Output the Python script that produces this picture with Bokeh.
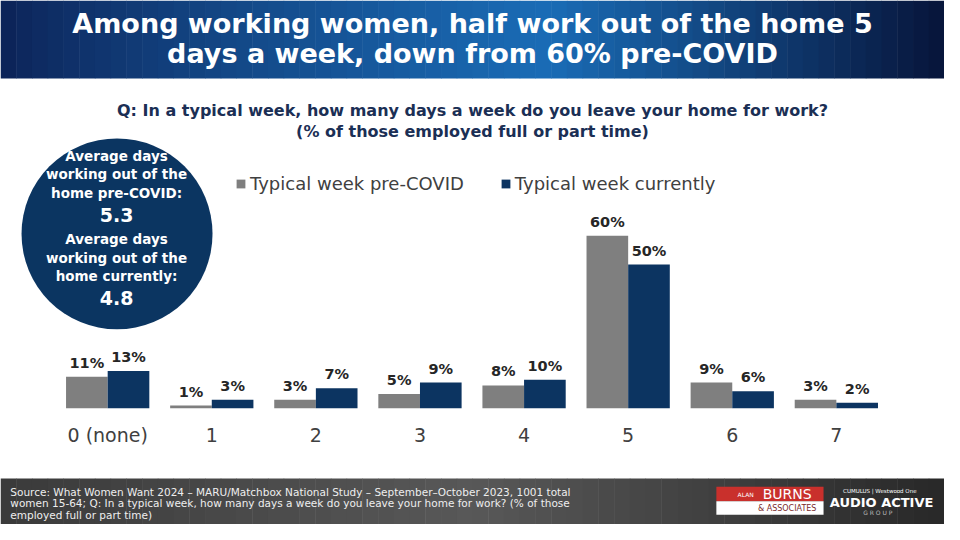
from bokeh.plotting import figure
from bokeh.models import (ColumnDataSource, Range1d, FixedTicker, Legend, LegendItem)
from bokeh.layouts import column
from bokeh.transform import dodge
from bokeh.core.properties import value
from bokeh.embed import file_html
from bokeh.resources import INLINE

# ---------------- data ----------------
categories = ["0 (none)", "1", "2", "3", "4", "5", "6", "7"]
pre_covid = [11, 1, 3, 5, 8, 60, 9, 3]
currently = [13, 3, 7, 9, 10, 50, 6, 2]
series_names = ["Typical week pre-COVID", "Typical week currently"]
avg_pre = "5.3"
avg_now = "4.8"

title_lines = ["Among working women, half work out of the home 5",
               "days a week, down from 60% pre-COVID"]
question_lines = ["Q: In a typical week, how many days a week do you leave your home for work?",
                  "(% of those employed full or part time)"]
source_lines = ["Source: What Women Want 2024 \u2013 MARU/Matchbox National Study \u2013 September\u2013October 2023, 1001 total",
                "women 15-64; Q: In a typical week, how many days a week do you leave your home for work? (% of those",
                "employed full or part time)"]

# ---------------- styling ----------------
GRAY = "#7f7f7f"
NAVY = "#0c3461"
FONT = "DejaVu Sans"
W, H = 944, 524
MAIN_H = 478
FOOT_H = H - MAIN_H
kx, ky = W / 960, H / 540
frame_h = 408
ref_base = frame_h / ky          # reference-pixel y of the baseline
px_per_pct = 2.967

x0 = -109 / 105.86
x1 = (960 - 109) / 105.86

p = figure(width=W, height=MAIN_H, output_backend="svg", toolbar_location=None,
           x_range=Range1d(x0, x1), y_range=Range1d(0, ref_base / px_per_pct),
           y_axis_type=None, min_border_left=0, min_border_right=0,
           min_border_top=0, min_border_bottom=MAIN_H - frame_h)
p.extra_x_ranges = {"px": Range1d(0, 960)}
p.extra_y_ranges = {"py": Range1d(ref_base, 0)}
p.xgrid.visible = False
p.ygrid.visible = False
p.outline_line_color = None
p.background_fill_color = "white"
p.border_fill_color = "white"

# ---- title band gradient (decoration) ----
def lerp(a, b, t):
    return tuple(int(round(a[i] + (b[i] - a[i]) * t)) for i in range(3))

c_left, c_mid, c_right = (12, 34, 86), (26, 108, 182), (7, 20, 58)
n = 60
lefts, rights, cols = [], [], []
for i in range(n):
    t = (i + 0.5) / n
    if t < 0.58:
        c = lerp(c_left, c_mid, (t / 0.58) ** 0.8)
    else:
        c = lerp(c_mid, c_right, (t - 0.58) / 0.42)
    lefts.append(960 * i / n)
    rights.append(960 * (i + 1) / n + 0.5)
    cols.append("#%02x%02x%02x" % c)
p.quad(left=lefts, right=rights, top=[0] * n, bottom=[80.5] * n, fill_color=cols,
       line_color=None, x_range_name="px", y_range_name="py")

p.text(x=[480, 480], y=[24, 55], text=title_lines, x_range_name="px", y_range_name="py",
       text_font=value(FONT), text_font_style="bold", text_font_size="27px",
       text_color="white", text_align="center", text_baseline="middle")

p.text(x=[480, 480], y=[113, 135], text=question_lines, x_range_name="px", y_range_name="py",
       text_font=value(FONT), text_font_style="bold", text_font_size="16px",
       text_color="#1b2f55", text_align="center", text_baseline="middle")

# ---- bars ----
src = ColumnDataSource(dict(
    x=list(range(len(categories))),
    pre=pre_covid, now=currently,
    pre_lbl=[f"{v}%" for v in pre_covid],
    now_lbl=[f"{v}%" for v in currently],
))
r_pre = p.vbar(x=dodge("x", -0.2, range=p.x_range), top="pre", width=0.4, source=src,
               fill_color=GRAY, line_color=None)
r_now = p.vbar(x=dodge("x", 0.2, range=p.x_range), top="now", width=0.4, source=src,
               fill_color=NAVY, line_color=None)
for col, off in (("pre_lbl", -0.2), ("now_lbl", 0.2)):
    p.text(x=dodge("x", off, range=p.x_range), y=col.split("_")[0], text=col, source=src,
           text_font=value(FONT), text_font_style="bold", text_font_size="14.5px",
           text_color="#262626", text_align="center", text_baseline="bottom", y_offset=-6)

# ---- axis ----
p.xaxis.ticker = FixedTicker(ticks=list(range(len(categories))))
p.xaxis.major_label_overrides = {i: c for i, c in enumerate(categories)}
p.xaxis.axis_line_color = None
p.xaxis.major_tick_line_color = None
p.xaxis.minor_tick_line_color = None
p.xaxis.major_tick_out = 0
p.xaxis.major_tick_in = 0
p.xaxis.major_label_standoff = 15
p.xaxis.major_label_text_font = FONT
p.xaxis.major_label_text_font_size = "19px"
p.xaxis.major_label_text_color = "#404040"

# ---- legend ----
legend = Legend(items=[LegendItem(label=series_names[0], renderers=[r_pre]),
                       LegendItem(label=series_names[1], renderers=[r_now])],
                orientation="horizontal", location=(235, 214),
                glyph_width=11, glyph_height=11, label_standoff=4, spacing=36,
                padding=0, margin=0, border_line_color=None, background_fill_alpha=0,
                label_text_font=FONT, label_text_font_size="18px",
                label_text_color="#404040")
p.add_layout(legend)

# ---- circle callout ----
p.scatter(x=[118.5], y=[240.5], size=191, marker="circle", fill_color="#0b3561",
          line_color=None, x_range_name="px", y_range_name="py")
circle_lines = ["Average days", "working out of the", "home pre-COVID:",
                "Average days", "working out of the", "home currently:"]
p.text(x=[118] * 6, y=[160, 179, 198, 246, 265, 284], text=circle_lines,
       x_range_name="px", y_range_name="py", text_font=value(FONT), text_font_style="bold",
       text_font_size="13.5px", text_color="white", text_align="center", text_baseline="middle")
p.text(x=[118, 118], y=[221, 307], text=[avg_pre, avg_now],
       x_range_name="px", y_range_name="py", text_font=value(FONT), text_font_style="bold",
       text_font_size="19px", text_color="white", text_align="center", text_baseline="middle")

# ---------------- footer ----------------
f = figure(width=W, height=FOOT_H, output_backend="svg", toolbar_location=None,
           x_range=Range1d(0, 960), y_range=Range1d(540, 540 - FOOT_H / ky),
           x_axis_type=None, y_axis_type=None, min_border=0)
f.xgrid.visible = False
f.ygrid.visible = False
f.outline_line_color = None
f.border_fill_color = "#3a3a3a"

g_left, g_mid, g_right = (58, 58, 58), (88, 88, 88), (40, 40, 40)
fl, fr, fc = [], [], []
for i in range(n):
    t = (i + 0.5) / n
    c = lerp(g_left, g_mid, t / 0.5) if t < 0.5 else lerp(g_mid, g_right, (t - 0.5) / 0.5)
    fl.append(960 * i / n)
    fr.append(960 * (i + 1) / n + 0.5)
    fc.append("#%02x%02x%02x" % c)
f.quad(left=fl, right=fr, top=[480] * n, bottom=[541] * n, fill_color=fc, line_color=None)

f.text(x=[10] * 3, y=[506, 518, 530], text=source_lines, text_font=value(FONT),
       text_font_size="10.5px", text_color="#eeeeee", text_align="left", text_baseline="middle")

# logos (decoration)
f.quad(left=[728], right=[837], top=[501], bottom=[516], fill_color="#c9302c", line_color=None)
f.quad(left=[728], right=[837], top=[516], bottom=[530], fill_color="white", line_color=None)
f.text(x=[766], y=[509], text=["ALAN"], text_font=value(FONT), text_font_size="6px",
       text_color="white", text_align="right", text_baseline="middle")
f.text(x=[800], y=[509], text=["BURNS"], text_font=value(FONT), text_font_size="14px",
       text_color="white", text_align="center", text_baseline="middle")
f.text(x=[800], y=[524], text=["& ASSOCIATES"], text_font=value(FONT), text_font_size="8px",
       text_color="#7a2a2a", text_align="center", text_baseline="middle")
f.text(x=[896], y=[505], text=["CUMULUS  |  Westwood One"], text_font=value(FONT),
       text_font_size="5.5px", text_color="white", text_align="center", text_baseline="middle")
f.text(x=[896], y=[517], text=["AUDIO ACTIVE"], text_font=value(FONT), text_font_style="bold",
       text_font_size="13px", text_color="white", text_align="center", text_baseline="middle")
f.text(x=[896], y=[528], text=["G  R  O  U  P"], text_font=value(FONT),
       text_font_size="6px", text_color="#bbbbbb", text_align="center", text_baseline="middle")

layout = column(p, f, spacing=0)
open("out.html", "w").write(file_html(layout, INLINE))
